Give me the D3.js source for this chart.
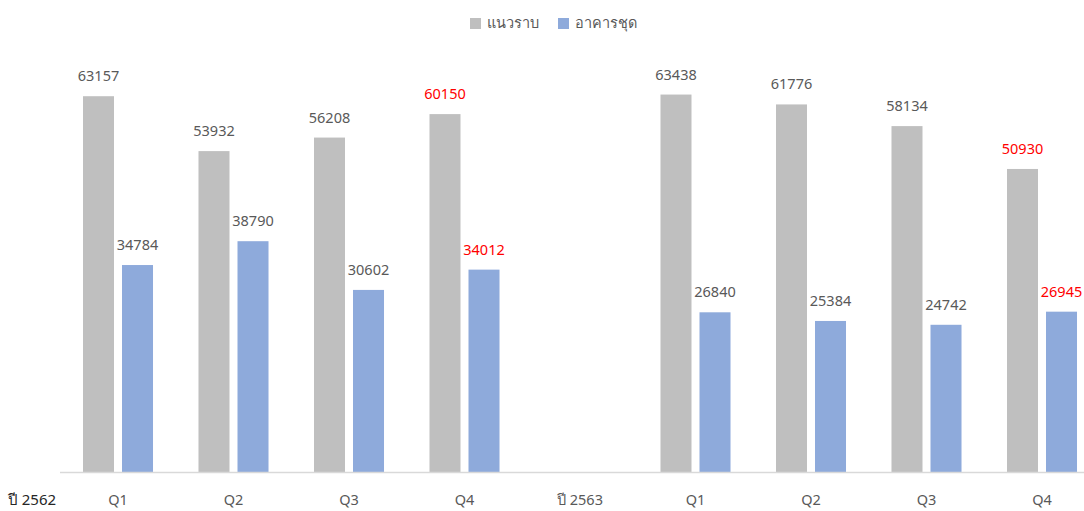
<!DOCTYPE html>
<html>
<head>
<meta charset="utf-8">
<script src="https://cdn.jsdelivr.net/npm/d3@7"></script>
<style>
  html, body { margin: 0; padding: 0; background: #ffffff; }
  svg { display: block; font-family: "Noto Sans", "Open Sans", "DejaVu Sans", sans-serif; }
</style>
</head>
<body>
<svg id="chart" width="1084" height="511"></svg>
<script>
// Quarterly figures: low-rise housing vs condominium units
const categories = ["Q1", "Q2", "Q3", "Q4", "ปี 2563", "Q1", "Q2", "Q3", "Q4"];
const seriesNames = ["แนวราบ", "อาคารชุด"];
const lowRise = [63157, 53932, 56208, 60150, null, 63438, 61776, 58134, 50930];
const condo   = [34784, 38790, 30602, 34012, null, 26840, 25384, 24742, 26945];
const highlighted = [3, 8];           // quarters whose labels are shown in red
const yearLabel = "ปี 2562";

const colors = ["#bfbfbf", "#8eaadb"];
const svg = d3.select("#chart");

const baseline = 472;
const x = d3.scaleBand()
  .domain(d3.range(categories.length))
  .range([60.25, 60.25 + 115.5 * categories.length])
  .padding(0);

const xInner = d3.scaleBand()
  .domain([0, 1])
  .range([0, x.bandwidth()])
  .paddingInner(8 / 39)
  .paddingOuter(0.583);

const y = d3.scaleLinear().domain([0, 80000]).range([baseline, -4]);

const series = [lowRise, condo];

// bars
series.forEach((vals, s) => {
  const g = svg.append("g");
  const data = vals.map((v, i) => ({ i, v })).filter(d => d.v != null);
  g.selectAll("rect").data(data).join("rect")
    .attr("x", d => x(d.i) + xInner(s))
    .attr("width", xInner.bandwidth())
    .attr("y", d => y(d.v))
    .attr("height", d => y(0) - y(d.v))
    .attr("fill", colors[s]);
  g.selectAll("text").data(data).join("text")
    .attr("x", d => x(d.i) + xInner(s) + xInner.bandwidth() / 2)
    .attr("y", d => y(d.v) - 15)
    .attr("text-anchor", "middle")
    .attr("font-size", 14.5)
    .attr("fill", d => highlighted.includes(d.i) ? "#ff0000" : "#595959")
    .text(d => d.v);
});

// category axis
svg.append("line")
  .attr("x1", 60).attr("x2", 1084)
  .attr("y1", baseline + 0.5).attr("y2", baseline + 0.5)
  .attr("stroke", "#d9d9d9").attr("stroke-width", 1.5);

svg.append("g").selectAll("text").data(categories).join("text")
  .attr("x", (d, i) => x(i) + x.bandwidth() / 2)
  .attr("y", 505)
  .attr("text-anchor", "middle")
  .attr("font-size", 14.5)
  .attr("fill", "#595959")
  .text(d => d);

svg.append("text")
  .attr("x", 32).attr("y", 505)
  .attr("text-anchor", "middle")
  .attr("font-size", 15)
  .attr("fill", "#262626")
  .text(yearLabel);

// legend
const legend = svg.append("g");
const legendItems = [
  { name: seriesNames[0], color: colors[0], x: 470 },
  { name: seriesNames[1], color: colors[1], x: 558 }
];
legendItems.forEach(item => {
  legend.append("rect")
    .attr("x", item.x).attr("y", 18)
    .attr("width", 11).attr("height", 11)
    .attr("fill", item.color);
  legend.append("text")
    .attr("x", item.x + 17).attr("y", 28)
    .attr("font-size", 14.5)
    .attr("fill", "#595959")
    .text(item.name);
});
</script>
</body>
</html>
